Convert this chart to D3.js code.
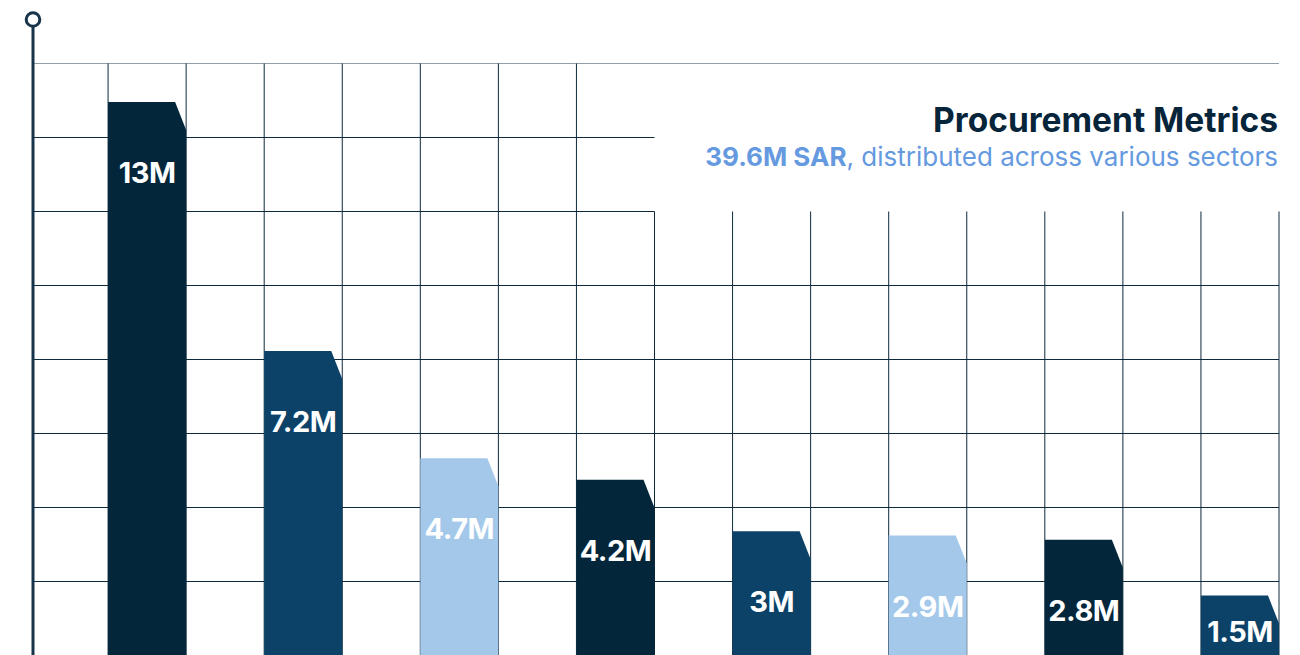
<!DOCTYPE html>
<html lang="en">
  <head>
    <meta charset="UTF-8" />
    <title>Procurement Metrics</title>
    <style>
      html,
      body {
        margin: 0;
        padding: 0;
        background: #fff;
      }
      svg {
        display: block;
        font-family: Inter, "Noto Sans", sans-serif;
      }
      .grid-lines line {
        stroke: #0d2a3c;
        stroke-width: 1;
      }
      .bar-label {
        fill: #fff;
        font-weight: 700;
        font-size: 29px;
        text-anchor: middle;
        letter-spacing: -0.5px;
      }
    </style>
  </head>
  <body>
    <script src="https://d3js.org/d3.v7.min.js"></script>
    <script>
      // bar values (million SAR), in order
      const labels = ["13M", "7.2M", "4.7M", "4.2M", "3M", "2.9M", "2.8M", "1.5M"];
      const values = [13, 7.2, 4.7, 4.2, 3, 2.9, 2.8, 1.5];
      const title = "Procurement Metrics";
      const subtitleBold = "39.6M SAR";
      const subtitleRest = ", distributed across various sectors";

      const barColors = ["#03263a", "#0c4267", "#a3c8ea"];

      function makeChart() {
        const width = 1300;
        const height = 655;
        const axisX = 33;
        const gridTop = 63.5;
        const rowStep = 74;

        const svg = d3
          .select("body")
          .append("svg")
          .attr("width", width)
          .attr("height", height);

        // each bar takes one column, with one empty column to its left
        const xScale = d3
          .scaleBand()
          .domain(labels)
          .range([30, 1279])
          .paddingInner(0.5)
          .paddingOuter(0.25)
          .align(1);

        const yScale = d3.scaleLinear().domain([0, 13]).range([660, 102]);

        const colW = xScale.bandwidth();
        const colXs = d3.range(1, 17).map((i) => 30 + i * colW);
        const rowYs = d3.range(0, 8).map((i) => gridTop + i * rowStep);

        // title area: grid is left open in the top right
        const boxX = colXs[7];
        const boxBottom = rowYs[2];

        const grid = svg.append("g").attr("class", "grid-lines");

        grid
          .selectAll(".h")
          .data(rowYs)
          .join("line")
          .attr("class", "h")
          .attr("x1", axisX)
          .attr("x2", (d, i) => (i === 1 || i === 2 ? boxX : 1279))
          .attr("y1", (d) => d)
          .attr("y2", (d) => d)
          .attr("stroke-opacity", (d, i) => (i === 0 ? 0.45 : 1));

        grid
          .selectAll(".v")
          .data(colXs)
          .join("line")
          .attr("class", "v")
          .attr("x1", (d) => d)
          .attr("x2", (d) => d)
          .attr("y1", (d, i) => (i >= 7 ? boxBottom : gridTop))
          .attr("y2", height);

        // bars with clipped top-right corner
        const cutX = 11;
        const cutY = 28;
        const bars = svg.append("g");

        bars
          .selectAll("path")
          .data(values)
          .join("path")
          .attr("fill", (d, i) => barColors[i % 3])
          .attr("d", (d, i) => {
            const x0 = xScale(labels[i]);
            const x1 = x0 + colW;
            const yt = yScale(d);
            const yb = yScale(0) + 10;
            return `M${x0},${yb}L${x0},${yt}L${x1 - cutX},${yt}L${x1},${yt + cutY}L${x1},${yb}Z`;
          });

        bars
          .selectAll("text")
          .data(values)
          .join("text")
          .attr("class", "bar-label")
          .attr("x", (d, i) => xScale(labels[i]) + colW / 2)
          .attr("y", (d) => Math.min(yScale(d) + 81, 642))
          .text((d, i) => labels[i]);

        // y axis line with open circle
        svg
          .append("line")
          .attr("x1", axisX)
          .attr("x2", axisX)
          .attr("y1", 26)
          .attr("y2", height)
          .attr("stroke", "#17344a")
          .attr("stroke-width", 3);

        svg
          .append("circle")
          .attr("cx", axisX)
          .attr("cy", 19.5)
          .attr("r", 6.8)
          .attr("fill", "#fff")
          .attr("stroke", "#17344a")
          .attr("stroke-width", 3);

        // title
        svg
          .append("text")
          .attr("x", 1278)
          .attr("y", 132)
          .attr("text-anchor", "end")
          .attr("font-size", 33.5)
          .attr("font-weight", 700)
          .attr("fill", "#07253a")
          .text(title);

        const sub = svg
          .append("text")
          .attr("x", 1278)
          .attr("y", 166)
          .attr("text-anchor", "end")
          .attr("font-size", 26)
          .attr("fill", "#6599e0");

        sub.append("tspan").attr("font-weight", 700).text(subtitleBold);
        sub.append("tspan").text(subtitleRest);
      }

      makeChart();
    </script>
  </body>
</html>
